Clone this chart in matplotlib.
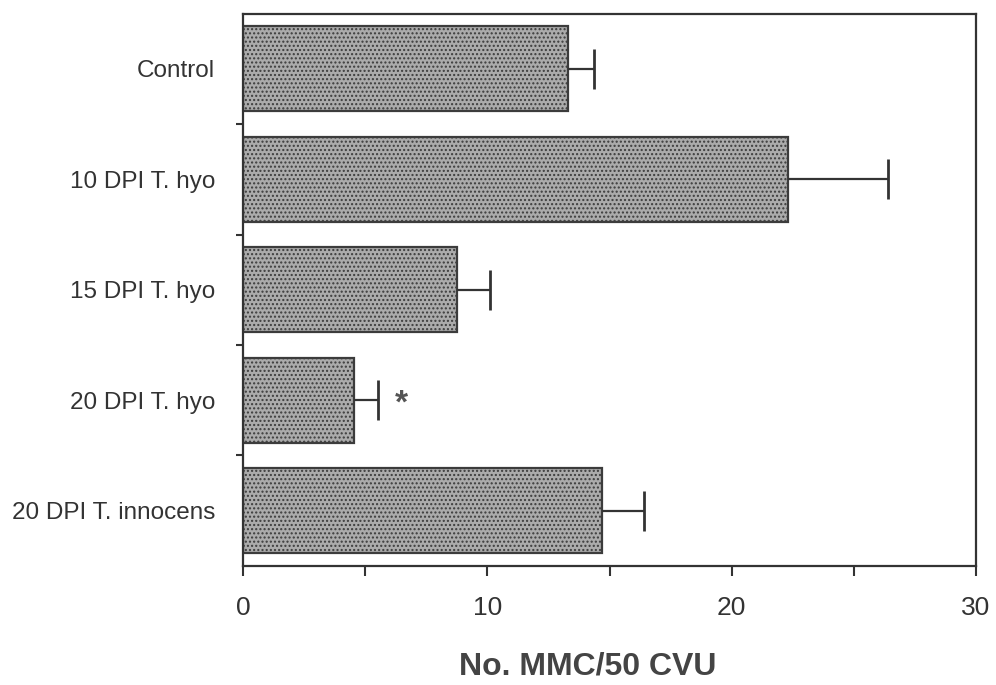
import numpy as np
import matplotlib
matplotlib.use("Agg")
import matplotlib.pyplot as plt
from matplotlib import font_manager

groups = ["Control", "10 DPI T. hyo", "15 DPI T. hyo", "20 DPI T. hyo", "20 DPI T. innocens"]
mmc = [13.3, 22.3, 8.75, 4.55, 14.7]
sem = [1.05, 4.1, 1.35, 0.98, 1.7]
signif = ["", "", "", "*", ""]

names = set(f.name for f in font_manager.fontManager.ttflist)
base = "Liberation Sans" if "Liberation Sans" in names else "DejaVu Sans"
narrow = "Liberation Sans Narrow" if "Liberation Sans Narrow" in names else base
plt.rcParams["font.family"] = [base, "DejaVu Sans"]

ink = "#333333"

fig = plt.figure(figsize=(9.96, 6.85), dpi=100)
ax = fig.add_axes([0.244, 0.174, 0.736, 0.806])

y = np.arange(len(groups))
ax.barh(y, mmc, height=0.77, color="#ababab", edgecolor="#3c3c3c",
        linewidth=1.6, hatch="....", zorder=2)

# one-sided error bars
top = np.array(mmc) + np.array(sem)
ax.hlines(y, mmc, top, color=ink, lw=1.6, zorder=3)
ax.plot(top, y, ls="none", marker="|", ms=29, mew=2, color=ink, zorder=3)

for yi, xi, s in zip(y, top, signif):
    if s:
        ax.annotate(s, (xi, yi), xytext=(12, -3), textcoords="offset points",
                    ha="left", va="center", fontsize=24, fontweight="bold", color="#555555")

ax.set_xlim(0, 30)
ax.set_ylim(4.5, -0.5)
ax.set_xticks([0, 10, 20, 30])
ax.set_xticks([5, 15, 25], minor=True)
ax.set_yticks(y)
ax.set_yticklabels(groups)
ax.set_yticks(y[:-1] + 0.5, minor=True)

ax.tick_params(axis="x", which="both", direction="out", length=7, width=1.5,
               color=ink, pad=15, labelsize=19, labelcolor="#333333")
for lab in ax.get_xticklabels():
    lab.set_family([narrow, "DejaVu Sans"])
ax.tick_params(axis="y", which="major", length=0, pad=20, labelsize=17.5, labelcolor="#333333")
ax.tick_params(axis="y", which="minor", direction="out", length=5, width=1.5, color=ink)

for sp in ax.spines.values():
    sp.set_color(ink)
    sp.set_linewidth(1.6)

ax.set_xlabel("No. MMC/50 CVU", fontsize=23, fontweight="bold", color="#444444")
ax.xaxis.set_label_coords(0.47, -0.155)

fig.savefig("out.png", dpi=100)
